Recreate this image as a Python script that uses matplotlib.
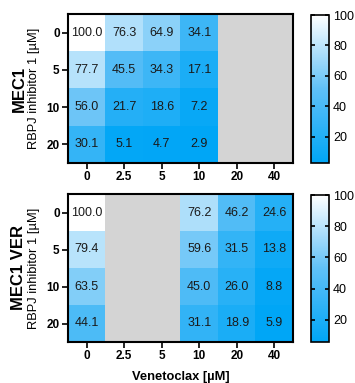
import numpy as np
import matplotlib
matplotlib.use("Agg")
import matplotlib.pyplot as plt
from matplotlib.colors import LinearSegmentedColormap, Normalize

plt.rcParams['font.family'] = ['Liberation Sans', 'DejaVu Sans']

venetoclax = ["0", "2.5", "5", "10", "20", "40"]
rbpj = ["0", "5", "10", "20"]

mec1 = np.array([
    [100.0, 76.3, 64.9, 34.1, np.nan, np.nan],
    [77.7, 45.5, 34.3, 17.1, np.nan, np.nan],
    [56.0, 21.7, 18.6, 7.2, np.nan, np.nan],
    [30.1, 5.1, 4.7, 2.9, np.nan, np.nan],
])
mec1_ver = np.array([
    [100.0, np.nan, np.nan, 76.2, 46.2, 24.6],
    [79.4, np.nan, np.nan, 59.6, 31.5, 13.8],
    [63.5, np.nan, np.nan, 45.0, 26.0, 8.8],
    [44.1, np.nan, np.nan, 31.1, 18.9, 5.9],
])

cmap = LinearSegmentedColormap.from_list(
    "viab", ["#00A6F6", "#5FC0F7", "#FFFFFF"])
cmap.set_bad("#D4D4D4")

W, H = 355, 383
fig = plt.figure(figsize=(W / 100, H / 100), dpi=100)


def fx(px):
    return px / W


def fy(px):
    return 1 - px / H


def panel(data, top, bottom, cb_top, cb_bottom, title, show_xlabel):
    ax = fig.add_axes([fx(68), fy(bottom), fx(293) - fx(68), fy(top) - fy(bottom)])
    norm = Normalize(vmin=np.nanmin(data), vmax=np.nanmax(data))
    im = ax.imshow(np.ma.masked_invalid(data), cmap=cmap, norm=norm,
                   aspect="auto", interpolation="nearest")
    for i in range(data.shape[0]):
        for j in range(data.shape[1]):
            v = data[i, j]
            if not np.isnan(v):
                ax.text(j, i, f"{v:.1f}", ha="center", va="center",
                        fontsize=9, color="#1a1a1a")
    ax.set_xticks(range(len(venetoclax)))
    ax.set_xticklabels(venetoclax, fontweight="bold", fontsize=8.5)
    ax.set_yticks(range(len(rbpj)))
    ax.set_yticklabels(rbpj, fontweight="bold", fontsize=8.5)
    ax.tick_params(length=4, width=1.2, pad=2)
    for s in ax.spines.values():
        s.set_linewidth(1.5)
    ymid = (fy(top) + fy(bottom)) / 2
    fig.text(fx(19), ymid, title, rotation=90, ha="center", va="center",
             fontsize=12, fontweight="bold")
    fig.text(fx(34), ymid, "RBPJ inhibitor 1 [µM]", rotation=90,
             ha="center", va="center", fontsize=9.3)
    if show_xlabel:
        ax.set_xlabel("Venetoclax [µM]", fontsize=9.3, fontweight="bold",
                      labelpad=6)

    cax = fig.add_axes([fx(311), fy(cb_bottom), fx(329) - fx(311),
                        fy(cb_top) - fy(cb_bottom)])
    cb = fig.colorbar(im, cax=cax)
    cb.set_ticks([20, 40, 60, 80, 100])
    cb.ax.tick_params(labelsize=9, direction="in", length=3, width=1.2,
                      left=True, right=True, pad=3)
    cb.outline.set_linewidth(1.2)


panel(mec1, 14, 163, 15, 163, "MEC1", False)
panel(mec1_ver, 194, 342, 195, 342, "MEC1 VER", True)

fig.savefig("out.png", dpi=100)
